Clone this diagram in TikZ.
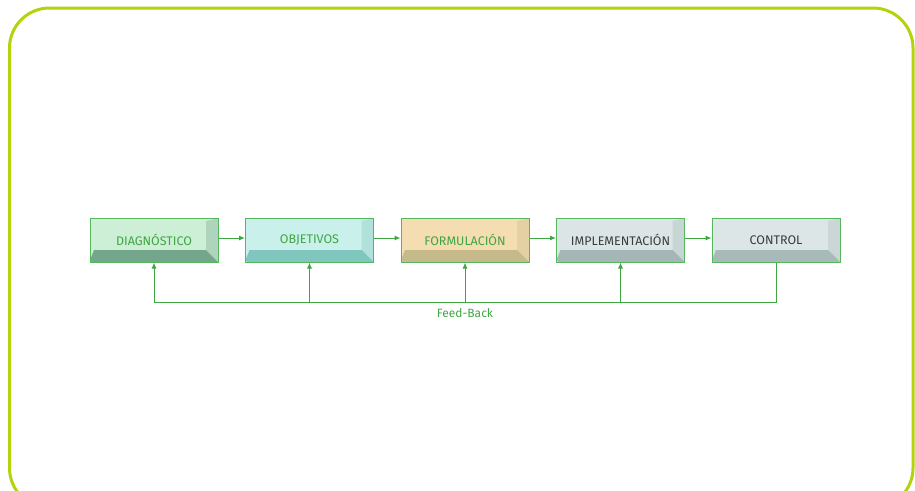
\documentclass[tikz,border=0pt]{standalone}
\usepackage{fontspec}
\setsansfont{Fira Sans}
\usepackage{tikz}
\usetikzlibrary{arrows.meta, positioning}
\definecolor{frameline}{HTML}{B5D20C}
\definecolor{flowgreen}{HTML}{3FA644}
\definecolor{boxedge}{HTML}{55B85E}
\definecolor{labelgray}{HTML}{3A3D3E}
\definecolor{diagface}{HTML}{CDEFD6}
\definecolor{diagdark}{HTML}{74A68C}
\definecolor{objface}{HTML}{CAF0EB}
\definecolor{objdark}{HTML}{80C5BE}
\definecolor{formface}{HTML}{F4DDB0}
\definecolor{formdark}{HTML}{C6B98A}
\definecolor{implface}{HTML}{DCE5E6}
\definecolor{impldark}{HTML}{A4B7B6}
\definecolor{ctrlface}{HTML}{DDE6E6}
\definecolor{ctrldark}{HTML}{A8BAB8}
\tikzset{box/.style 2 args={rectangle, minimum width=128pt, minimum height=44pt, text centered, draw=boxedge, line width=1pt, fill=#1,
  font=\sffamily\fontsize{12.5}{14}\selectfont, text=flowgreen,
  path picture={
    \fill[#2!35!#1] ([xshift=-12pt,yshift=-3pt]path picture bounding box.north east) -- (path picture bounding box.north east)
      -- (path picture bounding box.south east) -- ([xshift=-12pt,yshift=12pt]path picture bounding box.south east) -- cycle;
    \fill[#2] ([yshift=2pt]path picture bounding box.south west) -- ([xshift=4pt,yshift=12pt]path picture bounding box.south west)
      -- ([xshift=-12pt,yshift=12pt]path picture bounding box.south east) -- (path picture bounding box.south east)
      -- ([xshift=2pt]path picture bounding box.south west) -- cycle;}}}
\tikzstyle{arrow} = [flowgreen, line width=1pt, -{Latex[length=6pt, width=5pt]}]
\tikzstyle{line} = [draw=flowgreen, line width=1pt]

\begin{document}
\begin{tikzpicture}[x=1pt, y=-1pt, node distance=155.5pt]
   \useasboundingbox (0,0) rectangle (915,490);
   \draw[frameline, line width=3pt, rounded corners=40pt] (9.5,8) rectangle (913,508);
   \node (diag) [box={diagface}{diagdark}] at (154,240) {DIAGNÓSTICO};
   \node (obj) [box={objface}{objdark}, right of=diag] {OBJETIVOS};
   \node (form) [box={formface}{formdark}, right of=obj] {FORMULACIÓN};
   \node (impl) [box={implface}{impldark}, right of=form, text=labelgray] {IMPLEMENTACIÓN};
   \node (ctrl) [box={ctrlface}{ctrldark}, right of=impl, text=labelgray] {CONTROL};
   \draw [arrow] ([yshift=2pt]diag.east) -- ([yshift=2pt]obj.west);
   \draw [arrow] ([yshift=2pt]obj.east) -- ([yshift=2pt]form.west);
   \draw [arrow] ([yshift=2pt]form.east) -- ([yshift=2pt]impl.west);
   \draw [arrow] ([yshift=2pt]impl.east) -- ([yshift=2pt]ctrl.west);
   % lazo de realimentacion
   \coordinate (fbdiag) at (diag.south |- 0,302);
   \coordinate (fbobj) at (obj.south |- fbdiag);
   \coordinate (fbform) at (form.south |- fbdiag);
   \coordinate (fbimpl) at (impl.south |- fbdiag);
   \path [line] (ctrl.south) |- (fbdiag);
   \draw [arrow] (fbdiag) -- (diag.south);
   \draw [arrow] (fbobj) -- (obj.south);
   \draw [arrow] (fbform) -- (form.south);
   \draw [arrow] (fbimpl) -- (impl.south);
   \node (fb) [below=3pt of fbform, font=\sffamily\fontsize{12}{14}\selectfont, text=flowgreen] {Feed-Back};
\end{tikzpicture}
\end{document}
